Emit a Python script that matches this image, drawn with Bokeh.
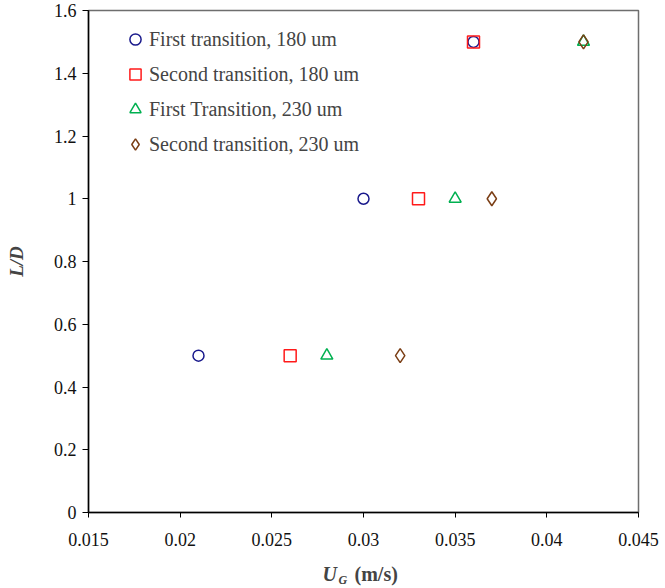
from bokeh.plotting import figure
from bokeh.models import Legend, LegendItem, Label, FixedTicker, Range1d
from bokeh.embed import file_html
from bokeh.resources import INLINE

# Data
first_180_x = [0.021, 0.030, 0.036]
first_180_y = [0.5, 1.0, 1.5]
second_180_x = [0.026, 0.033, 0.036]
second_180_y = [0.5, 1.0, 1.5]
first_230_x = [0.028, 0.035, 0.042]
first_230_y = [0.5, 1.0, 1.5]
second_230_x = [0.032, 0.037, 0.042]
second_230_y = [0.5, 1.0, 1.5]

x_ticks = [0.015, 0.02, 0.025, 0.03, 0.035, 0.04, 0.045]
x_tick_labels = ["0.015", "0.02", "0.025", "0.03", "0.035", "0.04", "0.045"]
y_ticks = [0, 0.2, 0.4, 0.6, 0.8, 1.0, 1.2, 1.4, 1.6]
y_tick_labels = ["0", "0.2", "0.4", "0.6", "0.8", "1", "1.2", "1.4", "1.6"]

FONT = "Liberation Serif"

p = figure(width=665, height=588, output_backend="svg", toolbar_location=None,
           x_range=Range1d(0.015, 0.045), y_range=Range1d(0, 1.6),
           min_border_left=88, min_border_right=27, min_border_top=10, min_border_bottom=76)
p.xgrid.visible = False
p.ygrid.visible = False
p.outline_line_color = "#6e6e6e"
p.outline_line_width = 1.5
p.background_fill_color = "white"
p.border_fill_color = "white"

for ax, ticks, labels in ((p.xaxis[0], x_ticks, x_tick_labels), (p.yaxis[0], y_ticks, y_tick_labels)):
    ax.ticker = FixedTicker(ticks=ticks)
    ax.major_label_overrides = {t: l for t, l in zip(ticks, labels)}
    ax.major_tick_in = 0
    ax.minor_tick_in = 0
    ax.minor_tick_out = 0
    ax.axis_line_color = "black"
    ax.axis_line_width = 1.5
    ax.major_tick_line_color = "black"
    ax.major_label_text_font = FONT
    ax.major_label_text_font_size = "18px"
    ax.major_label_text_color = "#111111"

p.xaxis.major_tick_out = 5
p.yaxis.major_tick_out = 6
p.xaxis.major_label_standoff = 15
p.yaxis.major_label_standoff = 6
p.yaxis.axis_label = "L/D"
p.yaxis.axis_label_text_font = FONT
p.yaxis.axis_label_text_font_style = "bold italic"
p.yaxis.axis_label_text_font_size = "19px"
p.yaxis.axis_label_standoff = 24

r1 = p.scatter(first_180_x, first_180_y, marker="circle", size=11, line_color="#1a1a8c",
               line_width=1.5, fill_color=None)
r2 = p.scatter(second_180_x, second_180_y, marker="square", size=12, line_color="#ff1a1a",
               line_width=1.5, fill_color=None)
r3 = p.scatter(first_230_x, first_230_y, marker="triangle", size=12, line_color="#00b050",
               line_width=1.5, fill_color=None)
r4 = p.scatter(second_230_x, second_230_y, marker="diamond", size=14, line_color="#7a3d14",
               line_width=1.5, fill_color=None)

legend = Legend(items=[
    LegendItem(label="First transition, 180 um", renderers=[r1]),
    LegendItem(label="Second transition, 180 um", renderers=[r2]),
    LegendItem(label="First Transition, 230 um", renderers=[r3]),
    LegendItem(label="Second transition, 230 um", renderers=[r4]),
], location=(33, 354), margin=0, padding=0, spacing=7,
    glyph_width=28, glyph_height=28, label_height=28, label_standoff=-21,
    label_text_font=FONT, label_text_font_size="20px",
    border_line_color=None, background_fill_alpha=0)
p.add_layout(legend)

# X axis title: U_G (m/s); labels live in side panels so they are not clipped to the frame
p.add_layout(Label(x=322, y=573, x_units="canvas", y_units="canvas", text="U",
                   text_font=FONT, text_font_style="bold italic", text_font_size="20px",
                   text_baseline="middle"), "right")
p.add_layout(Label(x=338, y=579, x_units="canvas", y_units="canvas", text="G",
                   text_font=FONT, text_font_style="bold italic", text_font_size="12px",
                   text_baseline="middle"), "right")
p.add_layout(Label(x=354, y=573, x_units="canvas", y_units="canvas", text="(m/s)",
                   text_font=FONT, text_font_style="bold", text_font_size="20px",
                   text_baseline="middle"), "below")

open("out.html", "w").write(file_html(p, INLINE))
